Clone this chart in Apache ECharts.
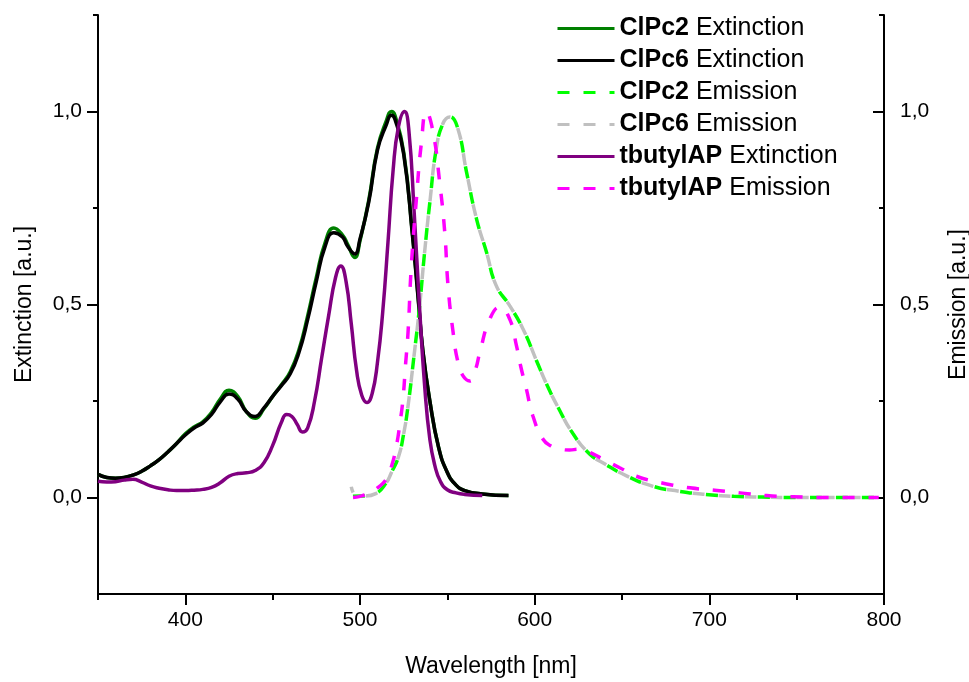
<!DOCTYPE html>
<html>
<head>
<meta charset="utf-8">
<script src="https://cdn.jsdelivr.net/npm/echarts@6/dist/echarts.min.js"></script>
<style>html,body{margin:0;padding:0;background:#fff;overflow:hidden}#c{width:969px;height:682px}</style>
</head>
<body>
<div id="c"></div>
<script>
// ---- Data ----
const seriesNames = ['ClPc2 Extinction','ClPc6 Extinction','ClPc2 Emission','ClPc6 Emission','tbutylAP Extinction','tbutylAP Emission'];

const clpc2ExtX = [350,355,360,365,370,375,380,385,390,395,400,405,410,415,420,425,430,435,440,445,450,455,460,465,470,475,480,485,490,493,497,500,505,510,515,518,520,525,530,533,536,540,545,550,555,560,570,585];
const clpc2ExtY = [0.060,0.052,0.050,0.052,0.058,0.068,0.082,0.098,0.118,0.140,0.165,0.183,0.196,0.220,0.255,0.278,0.262,0.222,0.205,0.230,0.262,0.292,0.325,0.382,0.470,0.570,0.660,0.698,0.680,0.655,0.622,0.665,0.770,0.905,0.975,1.000,0.990,0.895,0.685,0.535,0.380,0.250,0.130,0.065,0.032,0.018,0.009,0.005];

const clpc6ExtX = [350,355,360,365,370,375,380,385,390,395,400,405,410,415,420,425,430,435,440,445,450,455,460,465,470,475,480,485,490,493,497,500,505,510,515,518,520,525,530,533,536,540,545,550,555,560,570,585];
const clpc6ExtY = [0.060,0.052,0.050,0.052,0.058,0.068,0.082,0.098,0.118,0.140,0.162,0.180,0.193,0.215,0.248,0.268,0.255,0.222,0.210,0.232,0.262,0.290,0.320,0.375,0.460,0.560,0.650,0.686,0.675,0.650,0.631,0.670,0.765,0.900,0.965,0.990,0.980,0.890,0.680,0.530,0.380,0.250,0.130,0.065,0.032,0.018,0.009,0.005];

const clpc2EmX = [496,500,503,509,515,518,522,525,527.5,531,534,537,540,543.7,547.5,551.4,556,561,566.7,572.4,578,585.7,593.4,601,607,613,622,631.6,639,652.6,667.8,683,698,714,730,750,770,795];
const clpc2EmY = [0.003,0.004,0.004,0.010,0.038,0.065,0.105,0.165,0.237,0.370,0.490,0.636,0.765,0.904,0.969,0.986,0.956,0.843,0.722,0.636,0.549,0.497,0.436,0.355,0.292,0.237,0.165,0.112,0.090,0.056,0.029,0.016,0.008,0.003,0.001,0.000,0.000,0.000];

const clpc6EmX = [495,498,503,509,515,518,522,525,527.5,531,534,537,540,543.7,547.5,551.4,556,561,566.7,572.4,578,585.7,593.4,601,607,613,622,631.6,639,652.6,667.8,683,698,714,730,750,770,795];
const clpc6EmY = [0.028,0.005,0.004,0.010,0.038,0.065,0.105,0.165,0.237,0.370,0.490,0.636,0.765,0.904,0.969,0.986,0.956,0.843,0.722,0.636,0.549,0.497,0.436,0.355,0.292,0.237,0.165,0.112,0.090,0.056,0.029,0.016,0.008,0.003,0.001,0.000,0.000,0.000];

const tbuExtX = [350,355,360,365,370,375,380,385,390,395,400,405,410,415,420,425,430,435,440,445,450,455,458,461,464,467,470,474,478,482,486,489,492,495,498,501,504,507,510,513,516,519,522,525.5,528,531,534,537,540,543,546,550,555,560,570];
const tbuExtY = [0.042,0.040,0.041,0.045,0.047,0.040,0.030,0.024,0.020,0.018,0.018,0.019,0.021,0.026,0.038,0.055,0.062,0.064,0.070,0.090,0.135,0.195,0.215,0.210,0.190,0.170,0.180,0.250,0.360,0.470,0.570,0.600,0.560,0.450,0.330,0.265,0.246,0.270,0.350,0.480,0.660,0.850,0.960,1.000,0.950,0.740,0.500,0.290,0.150,0.080,0.042,0.020,0.012,0.008,0.005];

const tbuEmX = [496,500,505.5,510,515,518,520.8,522.8,524.6,526,527.5,529.4,532.3,535.2,538,541.8,545.6,548.5,550.4,553.3,556.1,559,562.8,566,568.6,574.3,580,585.7,589.6,592,595.3,599,604.8,609.6,615,620,625,630,639.2,648.7,658.3,673.6,688.9,703,717.5,732.8,748,765,797];
const tbuEmY = [0.000,0.003,0.012,0.025,0.047,0.080,0.133,0.190,0.255,0.340,0.428,0.601,0.774,0.921,0.999,0.947,0.817,0.688,0.549,0.428,0.350,0.315,0.302,0.330,0.376,0.462,0.493,0.462,0.393,0.340,0.280,0.211,0.151,0.133,0.125,0.123,0.125,0.120,0.099,0.077,0.055,0.037,0.025,0.019,0.012,0.005,0.002,0.000,0.000];

const xMajorTicks = [400,500,600,700,800];
const xMinorTicks = [350,450,550,650,750];
const yMajorTicks = [0,0.5,1.0];
const yMinorTicks = [0.25,0.75,1.25];

// ---- Build ----
const zip = (xs, ys) => xs.map((x, i) => [x, ys[i]]);
const FONT = '"Liberation Sans", Arial, sans-serif';
const fmt = v => v.toFixed(1).replace('.', ',');

const chart = echarts.init(document.getElementById('c'), null, {renderer: 'canvas'});

const axisLineStyle = {color: '#000', width: 2};
function xAx(major) {
  return {
    type: 'value', min: 350, max: 800, interval: 50, position: 'bottom',
    axisLine: {show: major, onZero: false, lineStyle: axisLineStyle},
    axisTick: {show: true, inside: false, length: major ? 11 : 6, customValues: major ? xMajorTicks : xMinorTicks, lineStyle: {color: '#000', width: 2}},
    axisLabel: major ? {show: true, customValues: xMajorTicks, fontSize: 21, color: '#000', fontFamily: FONT, margin: 16} : {show: false},
    splitLine: {show: false},
    name: major ? 'Wavelength [nm]' : '', nameLocation: 'middle', nameGap: 61,
    nameTextStyle: {fontSize: 23, color: '#000', fontFamily: FONT}
  };
}
function yAx(major, right) {
  return {
    type: 'value', min: -0.25, max: 1.25, interval: 0.25, position: right ? 'right' : 'left',
    axisLine: {show: major, onZero: false, lineStyle: axisLineStyle},
    axisTick: {show: true, inside: right, length: major ? 11 : 5, customValues: major ? yMajorTicks : yMinorTicks, lineStyle: {color: '#000', width: 2}},
    axisLabel: major ? {show: true, customValues: yMajorTicks, formatter: fmt, fontSize: 21, color: '#000', fontFamily: FONT, margin: 16} : {show: false},
    splitLine: {show: false},
    name: major ? (right ? 'Emission [a.u.]' : 'Extinction [a.u.]') : '',
    nameLocation: 'middle', nameRotate: 90, nameGap: right ? 63 : 62,
    nameTextStyle: {fontSize: 23, color: '#000', fontFamily: FONT}
  };
}

const colors = ['#008000', '#000000', '#00ff00', '#c0c0c0', '#800080', '#ff00ff'];
const dashed = [false, false, true, true, false, true];
const datas = [zip(clpc2ExtX, clpc2ExtY), zip(clpc6ExtX, clpc6ExtY), zip(clpc2EmX, clpc2EmY), zip(clpc6EmX, clpc6EmY), zip(tbuExtX, tbuExtY), zip(tbuEmX, tbuEmY)];
const yIdx = [0, 0, 2, 2, 0, 2];
const dashOffsets = [0, 0, 0, 6, 0, 0];

const series = seriesNames.map((n, i) => ({
  name: n, type: 'line', data: datas[i], xAxisIndex: 0, yAxisIndex: yIdx[i],
  symbol: 'none', showSymbol: false, smooth: 0.5,
  lineStyle: {color: colors[i], width: 3.5, type: dashed[i] ? [12, 14] : 'solid', dashOffset: dashOffsets[i], cap: 'butt'},
  itemStyle: {color: colors[i]},
  emphasis: {disabled: true}, silent: true
}));

chart.setOption({
  animation: false,
  backgroundColor: '#fff',
  grid: {left: 98, right: 85, top: 15, bottom: 88, containLabel: false, outerBoundsMode: 'none'},
  legend: {
    orient: 'vertical', left: 556, top: 16, padding: 0,
    itemWidth: 57, itemHeight: 14, itemGap: 7,
    data: seriesNames,
    itemStyle: {opacity: 0},
    lineStyle: {width: 3, dashOffset: 0},
    textStyle: {fontSize: 25, color: '#000', fontFamily: FONT, lineHeight: 25,
      rich: {b: {fontWeight: 'bold', fontSize: 25, fontFamily: FONT, color: '#000'}, r: {fontSize: 25, fontFamily: FONT, color: '#000'}}},
    formatter: name => { const k = name.indexOf(' '); return '{b|' + name.slice(0, k) + '}{r| ' + name.slice(k + 1) + '}'; },
    selectedMode: false
  },
  xAxis: [xAx(true), xAx(false)],
  yAxis: [yAx(true, false), yAx(false, false), yAx(true, true), yAx(false, true)],
  series: series
});
</script>
</body>
</html>
